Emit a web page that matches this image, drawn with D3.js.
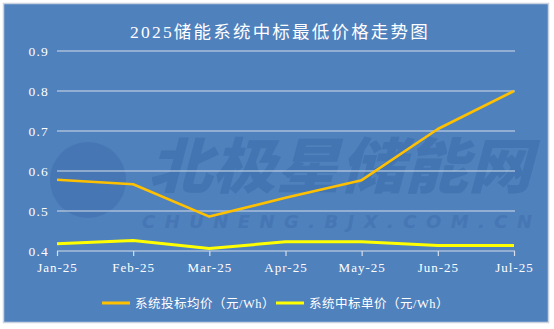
<!DOCTYPE html>
<html><head><meta charset="utf-8">
<script src="https://cdn.jsdelivr.net/npm/d3@7"></script>
<style>
html,body{margin:0;padding:0;background:#fff;}
svg{display:block;}
</style></head>
<body>
<svg id="c" width="554" height="329"></svg>
<script>
const months = ["Jan-25","Feb-25","Mar-25","Apr-25","May-25","Jun-25","Jul-25"];
const bidAvg = [0.578,0.567,0.486,0.533,0.577,0.705,0.800];
const winUnit = [0.418,0.426,0.406,0.423,0.423,0.414,0.414];
const yTicks = [0.4,0.5,0.6,0.7,0.8,0.9];
const seriesNames = ["系统投标均价（元/Wh）","系统中标单价（元/Wh）"];
const title = "2025储能系统中标最低价格走势图";

const svg = d3.select("#c");
const latin = "'Liberation Serif','DejaVu Serif','Noto Sans CJK SC',serif";
const cjk = "'Liberation Serif','Noto Sans CJK SC',sans-serif";

// panel
svg.append("rect").attr("x",3.5).attr("y",3.5).attr("width",545).attr("height",319)
  .attr("fill","#4f81bd").attr("stroke","#c9d3e0").attr("stroke-width",1.5);

// watermark
const wm = svg.append("g").attr("opacity",0.5);
wm.append("circle").attr("cx",88).attr("cy",180).attr("r",38).attr("fill","#3f6dab");
wm.append("text").attr("x",148).attr("y",188).attr("font-family","'Noto Sans CJK SC'")
  .attr("font-weight",900).attr("font-style","italic").attr("font-size",60)
  .attr("textLength",384).attr("lengthAdjust","spacingAndGlyphs")
  .attr("fill","#386aa8").text("北极星储能网");
wm.append("text").attr("x",142).attr("y",228).attr("font-family","'DejaVu Sans'")
  .attr("font-weight",700).attr("font-style","italic").attr("font-size",18)
  .attr("textLength",390).attr("lengthAdjust","spacing")
  .attr("fill","#3f6dab").text("CHUNENG.BJX.COM.CN");

const x = d3.scalePoint().domain(months).range([57,514]);
const y = d3.scaleLinear().domain([0.4,0.9]).range([251,51]);

// gridlines
svg.append("g").selectAll("line").data(yTicks.filter(d=>d>0.4)).join("line")
  .attr("x1",57).attr("x2",515).attr("y1",d=>y(d)).attr("y2",d=>y(d))
  .attr("stroke","#d5deea").attr("stroke-width",1.2);

// y labels
svg.append("g").selectAll("text").data(yTicks).join("text")
  .attr("x",49).attr("y",d=>y(d)+4.5).attr("text-anchor","end")
  .attr("font-family",latin).attr("font-size",13.5).attr("letter-spacing",1.2).attr("fill","#fff")
  .text(d=>d3.format(".1f")(d));

// x axis
const xa = svg.append("g").attr("transform",`translate(0,${y(0.4)})`)
  .call(d3.axisBottom(x).tickSize(5).tickPadding(7).tickSizeOuter(0));
xa.select(".domain").attr("stroke","#d5deea").attr("stroke-width",1.2)
  .attr("d","M57,0H515");
xa.selectAll(".tick line").attr("stroke","#d5deea").attr("stroke-width",1.2);
xa.selectAll(".tick text").attr("fill","#fff").attr("font-family",latin)
  .attr("font-size",13).attr("letter-spacing",1);

// lines
const line = d3.line().x((d,i)=>x(months[i])).y(d=>y(d));
svg.append("path").datum(bidAvg).attr("d",line).attr("fill","none")
  .attr("stroke","#ffc000").attr("stroke-width",2.6).attr("stroke-linejoin","round");
svg.append("path").datum(winUnit).attr("d",line).attr("fill","none")
  .attr("stroke","#ffff00").attr("stroke-width",3).attr("stroke-linejoin","round");

// title
svg.append("text").attr("x",280).attr("y",38).attr("text-anchor","middle")
  .attr("font-family",cjk).attr("font-size",17.5).attr("letter-spacing",2.2)
  .attr("fill","#fff").text(title);

// legend
const lg = [{c:"#ffc000",x:102,n:seriesNames[0]},{c:"#ffff00",x:276,n:seriesNames[1]}];
const L = svg.append("g").selectAll("g").data(lg).join("g");
L.append("line").attr("x1",d=>d.x).attr("x2",d=>d.x+28).attr("y1",303).attr("y2",303)
  .attr("stroke",d=>d.c).attr("stroke-width",3);
L.append("text").attr("x",d=>d.x+33).attr("y",308).attr("font-family",cjk)
  .attr("font-size",12.5).attr("letter-spacing",0.5).attr("fill","#fff").text(d=>d.n);
</script>
</body></html>
